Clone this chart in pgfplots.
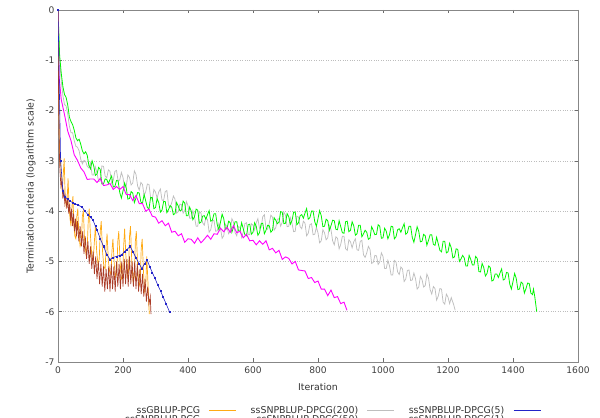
\documentclass[border=0pt]{standalone}
\usepackage{fontspec}
\setmainfont{DejaVu Sans}
\usepackage{pgfplots}
\pgfplotsset{compat=1.18}
\definecolor{cOrange}{RGB}{255,170,20}
\definecolor{cGray}{RGB}{190,190,190}
\definecolor{cBlue}{RGB}{35,35,200}
\definecolor{cGreen}{RGB}{0,245,0}
\definecolor{cMag}{RGB}{255,0,255}
\definecolor{cBrown}{RGB}{170,60,40}
\definecolor{cFrame}{RGB}{135,135,135}
\newcommand{\fs}{\fontsize{9.4bp}{11bp}\selectfont}
\newcommand{\ft}{\fontsize{9.1bp}{11bp}\selectfont}
\begin{document}
\begin{tikzpicture}
\begin{axis}[
  name=ax, at={(0,0)}, anchor=south west,
  scale only axis, width=520bp, height=352bp,
  xmin=0, xmax=1600, ymin=-7, ymax=0,
  xtick={0,200,400,600,800,1000,1200,1400,1600},
  xticklabels={0,200,400,600,800,1000,1200,1400,1600},
  ytick={-7,-6,-5,-4,-3,-2,-1,0},
  yticklabels={-7,-6,-5,-4,-3,-2,-1,0},
  tick align=inside, major tick length=3.5bp,
  tick style={cFrame!80!black, line width=0.5pt},
  axis line style={cFrame, line width=0.8pt},
  ymajorgrids, grid style={dotted, cFrame!55, line width=0.5pt},
  ticklabel style={font=\ft, text=black!75},
  xticklabel style={yshift=-1bp},
  xlabel={Iteration}, ylabel={Termination criteria (logarithm scale)},
  label style={font=\fs, text=black!80},
  xlabel style={yshift=-3bp},
  ylabel style={yshift=3bp},
  legend columns=3, legend plot pos=right, legend cell align=right,
  legend image code/.code={\draw[#1] (0bp,0bp) -- (27bp,0bp);},
  legend style={draw=none, fill=none, font=\fs, text=black!80,
    at={(0.527,-0.119)}, anchor=north, inner sep=0pt, row sep=-3.5bp,
    /tikz/every odd column/.append style={column sep=7bp},
    /tikz/every even column/.append style={column sep=12bp}},
]
% gray
\addplot[cGray, line width=0.75pt, forget plot] coordinates {
(0,0) (5,-1.0) (10,-1.41) (15,-1.70) (20,-1.88) (25,-1.91) (30,-2.07) (35,-2.31) (40,-2.44) (45,-2.44) (50,-2.60)
(55,-2.71) (60,-2.73) (65,-2.80) (70,-2.97) (75,-3.06) (80,-2.99) (85,-3.01) (90,-3.11) (95,-3.14)
(100,-3.04) (105,-3.28) (110,-3.28) (115,-3.12) (120,-3.24) (125,-3.41) (130,-3.40) (135,-3.10) (140,-3.11) (145,-3.30)
(150,-3.34) (155,-3.18) (160,-3.21) (165,-3.45) (170,-3.39) (175,-3.21) (180,-3.19) (185,-3.40) (190,-3.38) (195,-3.23)
(200,-3.33) (205,-3.54) (210,-3.50) (215,-3.28) (220,-3.33) (225,-3.48) (230,-3.44) (235,-3.20) (240,-3.27) (245,-3.50)
(250,-3.58) (255,-3.43) (260,-3.47) (265,-3.69) (270,-3.61) (275,-3.46) (280,-3.47) (285,-3.73) (290,-3.77) (295,-3.57)
(300,-3.62) (305,-3.74) (310,-3.62) (315,-3.56) (320,-3.78) (325,-3.79) (330,-3.61) (335,-3.59) (340,-3.88) (345,-3.93)
(350,-3.83) (355,-3.70) (360,-3.76) (365,-4.04) (370,-4.01) (375,-3.86) (380,-3.87) (385,-4.04) (390,-3.99) (395,-3.81)
(400,-3.89) (405,-4.14) (410,-4.14) (415,-3.99) (420,-4.11) (425,-4.30) (430,-4.30) (435,-4.01) (440,-4.04) (445,-4.23)
(450,-4.28) (455,-4.13) (460,-4.17) (465,-4.42) (470,-4.37) (475,-4.20) (480,-4.18) (485,-4.40) (490,-4.39) (495,-4.24)
(500,-4.34) (505,-4.54) (510,-4.49) (515,-4.26) (520,-4.31) (525,-4.45) (530,-4.40) (535,-4.15) (540,-4.22) (545,-4.43)
(550,-4.49) (555,-4.31) (560,-4.32) (565,-4.52) (570,-4.42) (575,-4.25) (580,-4.23) (585,-4.46) (590,-4.47) (595,-4.25)
(600,-4.28) (605,-4.38) (610,-4.23) (615,-4.15) (620,-4.34) (625,-4.32) (630,-4.11) (635,-4.07) (640,-4.34) (645,-4.36)
(650,-4.24) (655,-4.08) (660,-4.12) (665,-4.38) (670,-4.33) (675,-4.16) (680,-4.15) (685,-4.30) (690,-4.22) (695,-4.02)
(700,-4.08) (705,-4.31) (710,-4.30) (715,-4.13) (720,-4.24) (725,-4.41) (730,-4.40) (735,-4.10) (740,-4.12) (745,-4.31)
(750,-4.35) (755,-4.20) (760,-4.24) (765,-4.49) (770,-4.44) (775,-4.27) (780,-4.25) (785,-4.47) (790,-4.46) (795,-4.32)
(800,-4.43) (805,-4.63) (810,-4.59) (815,-4.37) (820,-4.43) (825,-4.57) (830,-4.53) (835,-4.29) (840,-4.37) (845,-4.59)
(850,-4.67) (855,-4.51) (860,-4.54) (865,-4.75) (870,-4.66) (875,-4.50) (880,-4.50) (885,-4.75) (890,-4.78) (895,-4.57)
(900,-4.61) (905,-4.73) (910,-4.61) (915,-4.55) (920,-4.77) (925,-4.78) (930,-4.60) (935,-4.58) (940,-4.87) (945,-4.92)
(950,-4.83) (955,-4.70) (960,-4.76) (965,-5.04) (970,-5.02) (975,-4.88) (980,-4.89) (985,-5.06) (990,-5.01) (995,-4.83)
(1000,-4.90) (1005,-5.14) (1010,-5.14) (1015,-4.98) (1020,-5.09) (1025,-5.27) (1030,-5.27) (1035,-4.98) (1040,-5.01) (1045,-5.21)
(1050,-5.26) (1055,-5.11) (1060,-5.15) (1065,-5.40) (1070,-5.35) (1075,-5.18) (1080,-5.17) (1085,-5.38) (1090,-5.37) (1095,-5.23)
(1100,-5.34) (1105,-5.55) (1110,-5.51) (1115,-5.30) (1120,-5.36) (1125,-5.51) (1130,-5.48) (1135,-5.25) (1140,-5.33) (1145,-5.56)
(1150,-5.65) (1155,-5.50) (1160,-5.54) (1165,-5.77) (1170,-5.69) (1175,-5.54) (1180,-5.55) (1185,-5.81) (1190,-5.85) (1195,-5.65)
(1200,-5.71) (1205,-5.84) (1210,-5.72) (1217,-5.85) (1222,-5.97)
};
% green
\addplot[cGreen, line width=0.8pt, forget plot] coordinates {
(0,0) (5,-0.9) (10,-1.26) (15,-1.52) (20,-1.68) (25,-1.74) (30,-1.89) (35,-2.13) (40,-2.22) (45,-2.28) (50,-2.39)
(55,-2.54) (60,-2.60) (65,-2.57) (70,-2.67) (75,-2.80) (80,-2.86) (85,-2.82) (90,-2.89) (95,-3.09)
(100,-3.16) (105,-3.00) (110,-3.10) (115,-3.29) (120,-3.26) (125,-3.13) (130,-3.17) (135,-3.46) (140,-3.46) (145,-3.36)
(150,-3.37) (155,-3.45) (160,-3.37) (165,-3.30) (170,-3.52) (175,-3.51) (180,-3.39) (185,-3.40) (190,-3.63) (195,-3.74)
(200,-3.60) (205,-3.44) (210,-3.54) (215,-3.76) (220,-3.75) (225,-3.61) (230,-3.64) (235,-3.83) (240,-3.74) (245,-3.63)
(250,-3.64) (255,-3.82) (260,-3.84) (265,-3.67) (270,-3.80) (275,-3.93) (280,-3.95) (285,-3.73) (290,-3.73) (295,-3.95)
(300,-3.93) (305,-3.75) (310,-3.83) (315,-4.02) (320,-3.98) (325,-3.81) (330,-3.81) (335,-4.03) (340,-3.97) (345,-3.89)
(350,-3.92) (355,-4.07) (360,-4.05) (365,-3.83) (370,-3.90) (375,-3.99) (380,-3.98) (385,-3.80) (390,-3.84) (395,-4.09)
(400,-4.09) (405,-3.92) (410,-4.00) (415,-4.17) (420,-4.11) (425,-3.96) (430,-3.98) (435,-4.24) (440,-4.22) (445,-4.10)
(450,-4.09) (455,-4.16) (460,-4.07) (465,-3.99) (470,-4.20) (475,-4.18) (480,-4.05) (485,-4.05) (490,-4.27) (495,-4.37)
(500,-4.22) (505,-4.06) (510,-4.15) (515,-4.36) (520,-4.35) (525,-4.20) (530,-4.23) (535,-4.42) (540,-4.32) (545,-4.21)
(550,-4.21) (555,-4.39) (560,-4.40) (565,-4.23) (570,-4.35) (575,-4.47) (580,-4.49) (585,-4.27) (590,-4.26) (595,-4.46)
(600,-4.42) (605,-4.23) (610,-4.30) (615,-4.48) (620,-4.43) (625,-4.25) (630,-4.24) (635,-4.45) (640,-4.38) (645,-4.28)
(650,-4.29) (655,-4.42) (660,-4.38) (665,-4.13) (670,-4.18) (675,-4.25) (680,-4.22) (685,-4.01) (690,-4.02) (695,-4.25)
(700,-4.24) (705,-4.05) (710,-4.11) (715,-4.26) (720,-4.19) (725,-4.02) (730,-4.02) (735,-4.27) (740,-4.23) (745,-4.09)
(750,-4.07) (755,-4.14) (760,-4.04) (765,-3.95) (770,-4.16) (775,-4.13) (780,-4.00) (785,-4.00) (790,-4.21) (795,-4.30)
(800,-4.15) (805,-3.99) (810,-4.09) (815,-4.31) (820,-4.30) (825,-4.16) (830,-4.19) (835,-4.38) (840,-4.29) (845,-4.18)
(850,-4.19) (855,-4.36) (860,-4.37) (865,-4.19) (870,-4.31) (875,-4.43) (880,-4.44) (885,-4.21) (890,-4.20) (895,-4.41)
(900,-4.38) (905,-4.21) (910,-4.29) (915,-4.48) (920,-4.45) (925,-4.28) (930,-4.28) (935,-4.51) (940,-4.45) (945,-4.38)
(950,-4.42) (955,-4.56) (960,-4.54) (965,-4.31) (970,-4.38) (975,-4.47) (980,-4.46) (985,-4.27) (990,-4.30) (995,-4.54)
(1000,-4.53) (1005,-4.34) (1010,-4.40) (1015,-4.55) (1020,-4.47) (1025,-4.30) (1030,-4.31) (1035,-4.55) (1040,-4.51) (1045,-4.37)
(1050,-4.35) (1055,-4.42) (1060,-4.33) (1065,-4.25) (1070,-4.46) (1075,-4.43) (1080,-4.30) (1085,-4.30) (1090,-4.52) (1095,-4.62)
(1100,-4.47) (1105,-4.31) (1110,-4.40) (1115,-4.61) (1120,-4.60) (1125,-4.46) (1130,-4.49) (1135,-4.68) (1140,-4.58) (1145,-4.47)
(1150,-4.47) (1155,-4.66) (1160,-4.68) (1165,-4.52) (1170,-4.65) (1175,-4.78) (1180,-4.81) (1185,-4.60) (1190,-4.60) (1195,-4.83)
(1200,-4.81) (1205,-4.64) (1210,-4.73) (1215,-4.93) (1220,-4.91) (1225,-4.75) (1230,-4.76) (1235,-5.00) (1240,-4.95) (1245,-4.88)
(1250,-4.93) (1255,-5.09) (1260,-5.09) (1265,-4.88) (1270,-4.96) (1275,-5.07) (1280,-5.07) (1285,-4.90) (1290,-4.94) (1295,-5.20)
(1300,-5.21) (1305,-5.04) (1310,-5.12) (1315,-5.29) (1320,-5.24) (1325,-5.09) (1330,-5.12) (1335,-5.39) (1340,-5.37) (1345,-5.25)
(1350,-5.25) (1355,-5.32) (1360,-5.23) (1365,-5.15) (1370,-5.37) (1375,-5.35) (1380,-5.22) (1385,-5.23) (1390,-5.45) (1395,-5.55)
(1400,-5.40) (1405,-5.24) (1410,-5.34) (1415,-5.56) (1420,-5.55) (1425,-5.41) (1430,-5.44) (1435,-5.63) (1440,-5.54) (1445,-5.43)
(1450,-5.44) (1455,-5.63) (1460,-5.66) (1463,-5.55) (1467,-5.70) (1473,-6.0)
};
% magenta
\addplot[cMag, line width=0.9pt, forget plot] coordinates {
(0,0) (3,-1.30) (10,-1.78) (20,-2.08) (30,-2.41) (40,-2.60) (50,-2.88) (60,-2.99) (70,-3.14) (80,-3.22) (90,-3.37)
(100,-3.36) (110,-3.36) (120,-3.43) (130,-3.35) (140,-3.49) (150,-3.48) (160,-3.45) (170,-3.57) (180,-3.51) (190,-3.57)
(200,-3.51) (210,-3.67) (220,-3.67) (230,-3.79) (240,-3.69) (250,-3.85) (260,-3.85) (270,-4.00) (280,-3.96) (290,-4.10)
(300,-4.12) (310,-4.24) (320,-4.19) (330,-4.29) (340,-4.24) (350,-4.42) (360,-4.40) (370,-4.49) (380,-4.45) (390,-4.62)
(400,-4.55) (410,-4.56) (420,-4.64) (430,-4.53) (440,-4.63) (450,-4.56) (460,-4.48) (470,-4.56) (480,-4.45) (490,-4.46)
(500,-4.34) (510,-4.41) (520,-4.32) (530,-4.42) (540,-4.29) (550,-4.43) (560,-4.40) (570,-4.53) (580,-4.46) (590,-4.59)
(600,-4.58) (610,-4.67) (620,-4.59) (630,-4.66) (640,-4.59) (650,-4.77) (660,-4.74) (670,-4.83) (680,-4.78) (690,-4.96)
(700,-4.91) (710,-4.94) (720,-5.05) (730,-5.00) (740,-5.17) (750,-5.18) (760,-5.19) (770,-5.34) (780,-5.32) (790,-5.42)
(800,-5.39) (810,-5.55) (820,-5.55) (830,-5.68) (840,-5.57) (850,-5.72) (860,-5.70) (870,-5.84) (880,-5.81) (889,-5.97)
};
% orange
\addplot[cOrange, line width=0.7pt, forget plot] coordinates {
(0,0) (2,-1.5) (4,-2.5) (6,-3.1) (8,-2.9) (10,-3.4) (13,-3.6) (16,-3.3) (19,-2.95) (22,-3.7) (25,-3.9) (28,-3.8)
(31,-3.35) (34,-3.9) (37,-4.15) (40,-4.3) (43,-3.9) (46,-3.7) (49,-4.3) (52,-4.5) (55,-4.55) (58,-4.1) (61,-3.95)
(64,-4.45) (68,-4.7) (72,-4.6) (75,-4.1) (78,-4.0) (82,-4.6) (86,-4.85) (90,-4.7) (93,-4.2) (96,-3.95) (100,-4.5)
(104,-4.9) (108,-5.0) (112,-4.6) (115,-4.3) (119,-4.8) (123,-5.05) (127,-4.95) (130,-4.4) (133,-4.2) (137,-4.8)
(141,-5.1) (145,-5.15) (148,-4.7) (151,-4.45) (155,-5.0) (159,-5.2) (163,-5.25) (166,-4.8) (169,-4.55) (173,-5.05)
(177,-5.3) (181,-5.2) (184,-4.6) (187,-4.4) (191,-5.0) (195,-5.35) (199,-5.3) (202,-4.7) (205,-4.35) (209,-4.9)
(213,-5.3) (217,-5.2) (220,-4.5) (223,-4.3) (227,-5.0) (231,-5.4) (235,-5.3) (238,-4.6) (241,-4.4) (245,-5.1)
(249,-5.5) (253,-5.4) (256,-4.75) (259,-4.55) (263,-5.2) (267,-5.6) (270,-5.5) (273,-4.9) (276,-5.3) (279,-5.8) (281,-6.05)
};
% brown
\addplot[cBrown, line width=0.7pt, forget plot] coordinates {
(0,0) (2,-1.8) (4,-2.8) (6,-3.2) (9,-3.5) (12,-3.4) (15,-3.75) (18,-3.6) (21,-3.85) (24,-3.7) (27,-3.95) (30,-3.75)
(33,-4.05) (36,-3.85) (39,-4.2) (42,-3.95) (45,-4.3) (48,-4.05) (51,-4.4) (54,-4.15) (57,-4.5) (60,-4.2) (64,-4.6)
(68,-4.3) (72,-4.7) (76,-4.4) (80,-4.85) (84,-4.5) (88,-4.95) (92,-4.6) (96,-5.05) (100,-4.7) (104,-5.15) (108,-4.8)
(112,-5.25) (116,-4.9) (120,-5.35) (124,-5.0) (128,-5.45) (132,-5.05) (136,-5.5) (140,-5.1) (144,-5.6) (148,-5.15)
(152,-5.55) (156,-5.1) (160,-5.6) (164,-5.05) (168,-5.55) (172,-5.1) (176,-5.6) (180,-5.0) (184,-5.5) (188,-5.05)
(192,-5.55) (196,-5.0) (200,-5.5) (204,-4.95) (208,-5.45) (212,-4.95) (216,-5.5) (220,-4.9) (224,-5.45) (228,-5.0)
(232,-5.5) (236,-5.0) (240,-5.55) (244,-5.05) (248,-5.6) (252,-5.15) (256,-5.65) (260,-5.25) (264,-5.7) (268,-5.35)
(272,-5.8) (276,-5.5) (280,-5.85) (284,-5.7) (286,-6.05)
};
% blue
\addplot[cBlue, line width=0.6pt, mark=square*, mark size=0.55pt, forget plot] coordinates {
(0,0) (8,-3.0) (15,-3.6) (21,-3.72) (30,-3.76) (37,-3.80) (45,-3.83) (52,-3.85) (62,-3.88) (74,-3.92) (83,-4.00)
(92,-4.07) (100,-4.12) (108,-4.18) (115,-4.30) (120,-4.37) (130,-4.55) (140,-4.70) (150,-4.86) (160,-4.96) (170,-4.92)
(180,-4.90) (190,-4.88) (197,-4.86) (205,-4.80) (213,-4.76) (222,-4.70) (230,-4.80) (240,-4.93) (250,-5.05) (258,-5.14)
(266,-5.05) (274,-4.97) (282,-5.10) (290,-5.22) (298,-5.33) (307,-5.47) (315,-5.58) (323,-5.70) (333,-5.85) (343,-6.0)
};
\addlegendimage{cOrange, line width=0.6pt}
\addlegendentry{ssGBLUP-PCG}
\addlegendimage{cGray, line width=0.6pt}
\addlegendentry{ssSNPBLUP-DPCG(200)}
\addlegendimage{cBlue, line width=0.6pt}
\addlegendentry{ssSNPBLUP-DPCG(5)}
\addlegendimage{cGreen, line width=0.6pt}
\addlegendentry{ssSNPBLUP-PCG}
\addlegendimage{cMag, line width=0.6pt}
\addlegendentry{ssSNPBLUP-DPCG(50)}
\addlegendimage{cBrown, line width=0.6pt}
\addlegendentry{ssSNPBLUP-DPCG(1)}
\end{axis}
\pgfresetboundingbox
\useasboundingbox ([shift={(-58bp,-56bp)}]ax.south west) rectangle ([shift={(22bp,10bp)}]ax.north east);
\end{tikzpicture}
\end{document}
